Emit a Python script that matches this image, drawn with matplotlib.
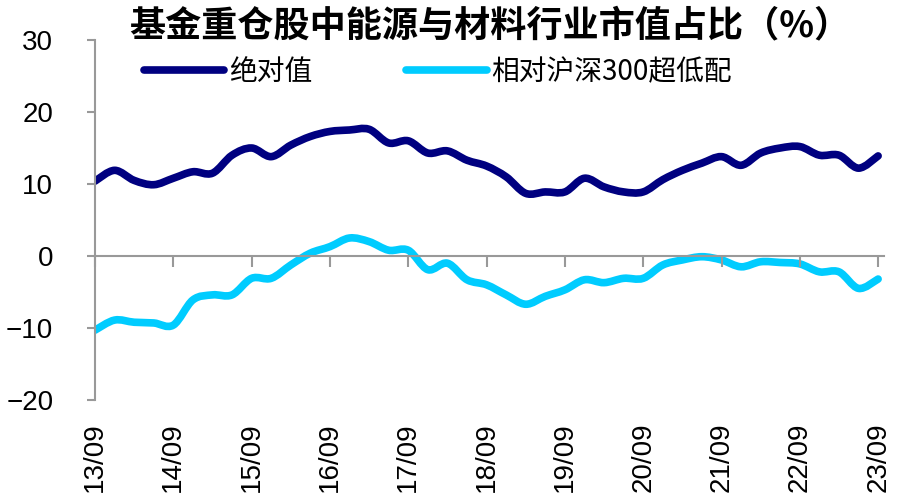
import matplotlib.pyplot as plt
import numpy as np
from matplotlib.path import Path
from matplotlib.patches import PathPatch
from matplotlib.lines import Line2D

plt.rcParams['font.family'] = ['Liberation Sans', 'Noto Sans CJK SC', 'DejaVu Sans']

title = "基金重仓股中能源与材料行业市值占比（%）"
year_labels = ["13/09", "14/09", "15/09", "16/09", "17/09", "18/09",
               "19/09", "20/09", "21/09", "22/09", "23/09"]

# quarterly, 2013Q3 .. 2023Q3
absolute = [10.4, 11.9, 10.5, 9.9, 10.8, 11.7, 11.5, 14.0, 15.0, 13.8,
            15.4, 16.6, 17.3, 17.5, 17.6, 15.7, 16.0, 14.3, 14.6, 13.3,
            12.5, 11.0, 8.7, 8.9, 8.9, 10.8, 9.6, 8.9, 8.9, 10.6,
            11.9, 12.9, 13.8, 12.6, 14.3, 15.0, 15.2, 14.0, 14.0, 12.2,
            13.9]
relative = [-10.3, -8.9, -9.2, -9.3, -9.6, -6.1, -5.4, -5.4, -3.1, -3.1,
            -1.25, 0.4, 1.3, 2.5, 2.0, 0.8, 0.8, -1.9, -1.0, -3.3,
            -4.0, -5.4, -6.7, -5.6, -4.7, -3.3, -3.7, -3.1, -3.1, -1.25,
            -0.55, -0.1, -0.55, -1.5, -0.8, -0.9, -1.1, -2.2, -2.2, -4.5,
            -3.2]

NAVY = "#000080"
CYAN = "#00CCFF"


def smooth_path(xs, ys):
    # excel-style smoothed line: catmull-rom segments as cubic beziers
    p = np.column_stack([xs, ys]).astype(float)
    ext = np.vstack([p[0], p, p[-1]])
    verts = [p[0]]
    codes = [Path.MOVETO]
    for i in range(len(p) - 1):
        p0, p1, p2, p3 = ext[i], ext[i + 1], ext[i + 2], ext[i + 3]
        verts += [p1 + (p2 - p0) / 6, p2 - (p3 - p1) / 6, p2]
        codes += [Path.CURVE4] * 3
    return Path(verts, codes)


x = np.arange(len(absolute))

fig = plt.figure(figsize=(8.97, 5.04), dpi=100)
ax = fig.add_axes([95 / 897, 1 - 400 / 504, 789 / 897, 360 / 504])

for ys, c in [(absolute, NAVY), (relative, CYAN)]:
    ax.add_patch(PathPatch(smooth_path(x, ys), facecolor="none", edgecolor=c,
                           lw=5.5, joinstyle="round", capstyle="round"))

ax.set_xlim(0, 40.3)
ax.set_ylim(-20, 30)
ax.set_yticks([-20, -10, 0, 10, 20, 30])

for s in ["top", "right"]:
    ax.spines[s].set_visible(False)
ax.spines["left"].set_color("#999999")
ax.spines["left"].set_linewidth(1.5)
ax.spines["bottom"].set_position(("data", 0))
ax.spines["bottom"].set_color("#999999")
ax.spines["bottom"].set_linewidth(1.5)

ax.set_xticks(x[::4])
ax.tick_params(axis="x", direction="out", length=8, width=1.5,
               color="#999999", labelbottom=False)
ax.tick_params(axis="y", direction="out", length=6, width=1.5,
               color="#999999", labelsize=20, pad=24)

trans = ax.get_xaxis_transform()
for xi, lab in zip(x[::4], year_labels):
    ax.text(xi, -0.063, lab, transform=trans, rotation=90, ha="center",
            va="top", fontsize=20, clip_on=False)

fig.text(490 / 897, 1 - 26 / 504, title, ha="center", va="center",
         fontsize=26, fontweight="bold",
         family=["Noto Sans CJK SC", "DejaVu Sans"])

handles = [Line2D([], [], color=NAVY, lw=5.5, solid_capstyle="round"),
           Line2D([], [], color=CYAN, lw=5.5, solid_capstyle="round")]
fig.legend(handles, ["绝对值", "相对沪深300超低配"],
           loc="center left", bbox_to_anchor=(130 / 897, 1 - 72 / 504),
           ncol=2, frameon=False, handlelength=2.9, handletextpad=0.15,
           columnspacing=3.4, borderpad=0,
           prop={"family": ["Noto Sans CJK SC", "DejaVu Sans"], "size": 20})

fig.savefig("out.png", dpi=100)
